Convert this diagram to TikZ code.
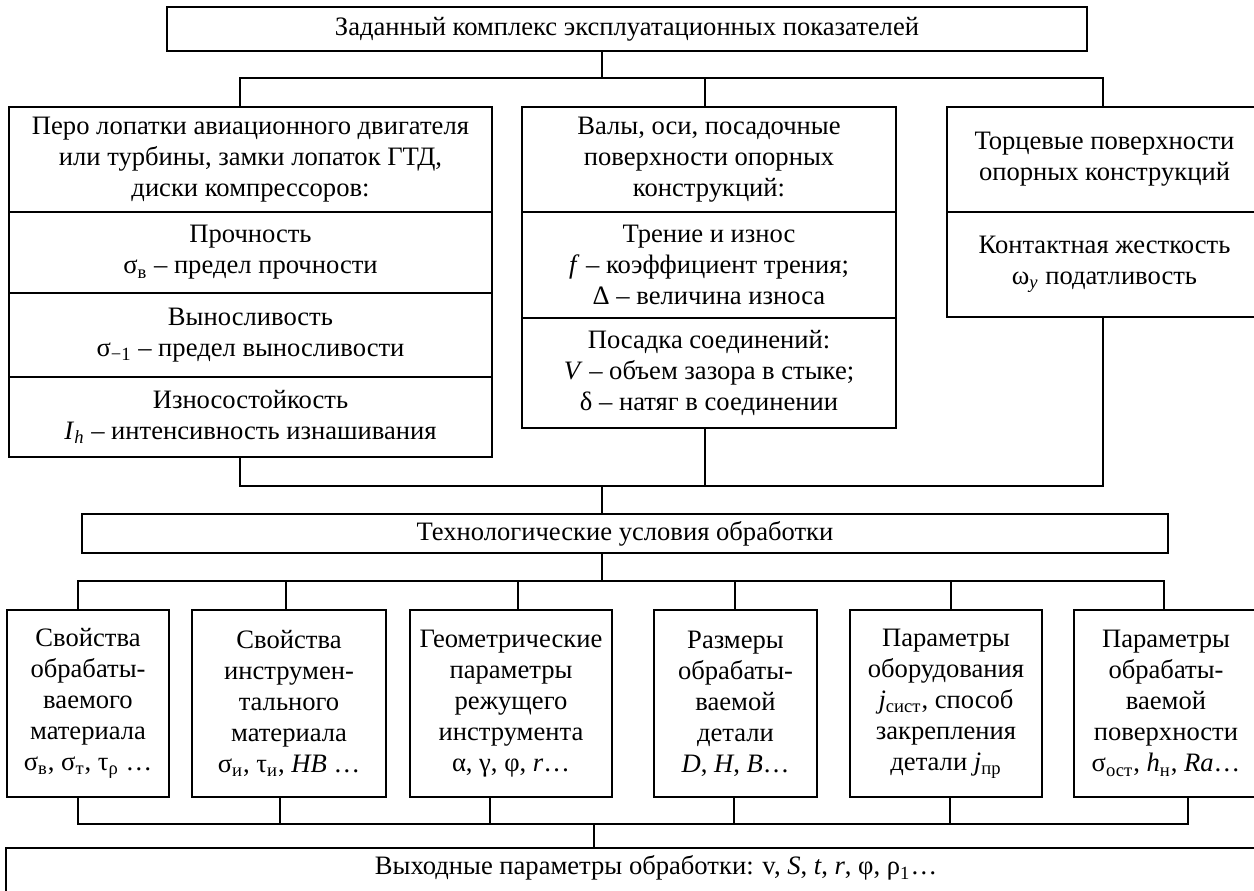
\documentclass[tikz,border=0pt]{standalone}
\usepackage{fontspec}
\setmainfont{Liberation Serif}
\newcommand{\sbs}[1]{\textsubscript{#1}}
\newcommand{\bx}[6]{%
  \pgfmathsetmacro\mybw{(#4-#2)*0.5}%
  \pgfmathsetmacro\mybh{(#5-#3)*0.5}%
  \node[bx, minimum width=\mybw pt, minimum height=\mybh pt] (#1) at ({(#2+#4)/2},{(#3+#5)/2}) {#6};}
\begin{document}
\begin{tikzpicture}[x=0.5pt, y=-0.5pt,
  bx/.style={draw, rectangle, line width=1.3pt, inner sep=0pt, outer sep=0pt, align=center,
             font=\fontsize{13.3}{15.5}\selectfont},
  txt/.style={inner sep=0pt, align=center, font=\fontsize{13.3}{15.5}\selectfont},
  ln/.style={line width=1.3pt}]
\useasboundingbox (0,0) rectangle (1254,890);
\clip (0,0) rectangle (1254,890);
% top
\bx{top}{167}{7}{1087}{51}{Заданный комплекс эксплуатационных показателей}
% row 2 left
\bx{Lh}{9}{107}{492}{212}{Перо лопатки авиационного двигателя\\или турбины, замки лопаток ГТД,\\диски компрессоров:}
\bx{Lp}{9}{212}{492}{293}{Прочность\\σ\sbs{в} – предел прочности}
\bx{Lv}{9}{293}{492}{377}{Выносливость\\σ\sbs{−1} – предел выносливости}
\bx{Li}{9}{377}{492}{457}{Износостойкость\\\textit{I}\sbs{\textit{h}} – интенсивность изнашивания}
% row 2 middle
\bx{Mh}{522}{107}{896}{212}{Валы, оси, посадочные\\поверхности опорных\\конструкций:}
\bx{Mt}{522}{212}{896}{318}{Трение и износ\\\textit{f} – коэффициент трения;\\Δ – величина износа}
\bx{Mp}{522}{318}{896}{428}{Посадка соединений:\\\textit{V} – объем зазора в стыке;\\δ – натяг в соединении}
% row 2 right
\bx{Rh}{947}{107}{1262}{212}{Торцевые поверхности\\опорных конструкций}
\bx{Rk}{947}{212}{1262}{317}{Контактная жесткость\\ω\sbs{\textit{y}} податливость}
% tech
\bx{tech}{82}{514}{1168}{553}{Технологические условия обработки}
% row 5
\bx{B1}{7}{610}{169}{797}{Свойства\\обрабаты-\\ваемого\\материала\\σ\sbs{в}, σ\sbs{т}, τ\sbs{ρ} …}
\bx{B2}{192}{610}{386}{797}{Свойства\\инструмен-\\тального\\материала\\σ\sbs{и}, τ\sbs{и}, \textit{HB} …}
\bx{B3}{410}{610}{612}{797}{Геометрические\\параметры\\режущего\\инструмента\\α, γ, φ, \textit{r}…}
\bx{B4}{654}{610}{817}{797}{Размеры\\обрабаты-\\ваемой\\детали\\\textit{D}, \textit{H}, \textit{B}…}
\bx{B5}{850}{610}{1042}{797}{Параметры\\оборудования\\\textit{j}\sbs{сист}, способ\\закрепления\\детали \textit{j}\sbs{пр}}
\bx{B6}{1074}{610}{1258}{797}{Параметры\\обрабаты-\\ваемой\\поверхности\\σ\sbs{ост}, \textit{h}\sbs{н}, \textit{Ra}…}
% bottom
\bx{out}{6}{848}{1306}{920}{}
\node[txt] (outtxt) at (656,868) {Выходные параметры обработки: v, \textit{S}, \textit{t}, \textit{r}, φ, ρ\sbs{1}…};
% connectors top
\coordinate (c1) at (602,78);
\coordinate (h1a) at (240,78);
\coordinate (h1b) at (705,78);
\coordinate (h1c) at (1103,78);
\draw[ln] (c1 |- top.south) -- (c1);
\draw[ln] (h1a |- Lh.north) -- (h1a) -- (h1c) -- (h1c |- Rh.north);
\draw[ln] (h1b) -- (h1b |- Mh.north);
% connectors row 2 -> tech
\coordinate (c2) at (602,486);
\coordinate (h2a) at (240,486);
\coordinate (h2b) at (705,486);
\coordinate (h2c) at (1103,486);
\draw[ln] (h2a |- Li.south) -- (h2a) -- (h2c) -- (h2c |- Rk.south);
\draw[ln] (h2b |- Mp.south) -- (h2b);
\draw[ln] (c2) -- (c2 |- tech.north);
% tech -> row 5
\coordinate (c3) at (602,581);
\coordinate (t1) at (78,581);
\coordinate (t2) at (286,581);
\coordinate (t3) at (518,581);
\coordinate (t4) at (735,581);
\coordinate (t5) at (951,581);
\coordinate (t6) at (1164,581);
\draw[ln] (c3 |- tech.south) -- (c3);
\draw[ln] (t1 |- B1.north) -- (t1) -- (t6) -- (t6 |- B6.north);
\draw[ln] (t2) -- (t2 |- B2.north);
\draw[ln] (t3) -- (t3 |- B3.north);
\draw[ln] (t4) -- (t4 |- B4.north);
\draw[ln] (t5) -- (t5 |- B5.north);
% row 5 -> bottom
\coordinate (c4) at (594,824);
\coordinate (b1) at (78,824);
\coordinate (b2) at (280,824);
\coordinate (b3) at (490,824);
\coordinate (b4) at (734,824);
\coordinate (b5) at (950,824);
\coordinate (b6) at (1188,824);
\draw[ln] (b1 |- B1.south) -- (b1) -- (b6) -- (b6 |- B6.south);
\draw[ln] (b2 |- B2.south) -- (b2);
\draw[ln] (b3 |- B3.south) -- (b3);
\draw[ln] (b4 |- B4.south) -- (b4);
\draw[ln] (b5 |- B5.south) -- (b5);
\draw[ln] (c4) -- (c4 |- out.north);
\end{tikzpicture}
\end{document}
